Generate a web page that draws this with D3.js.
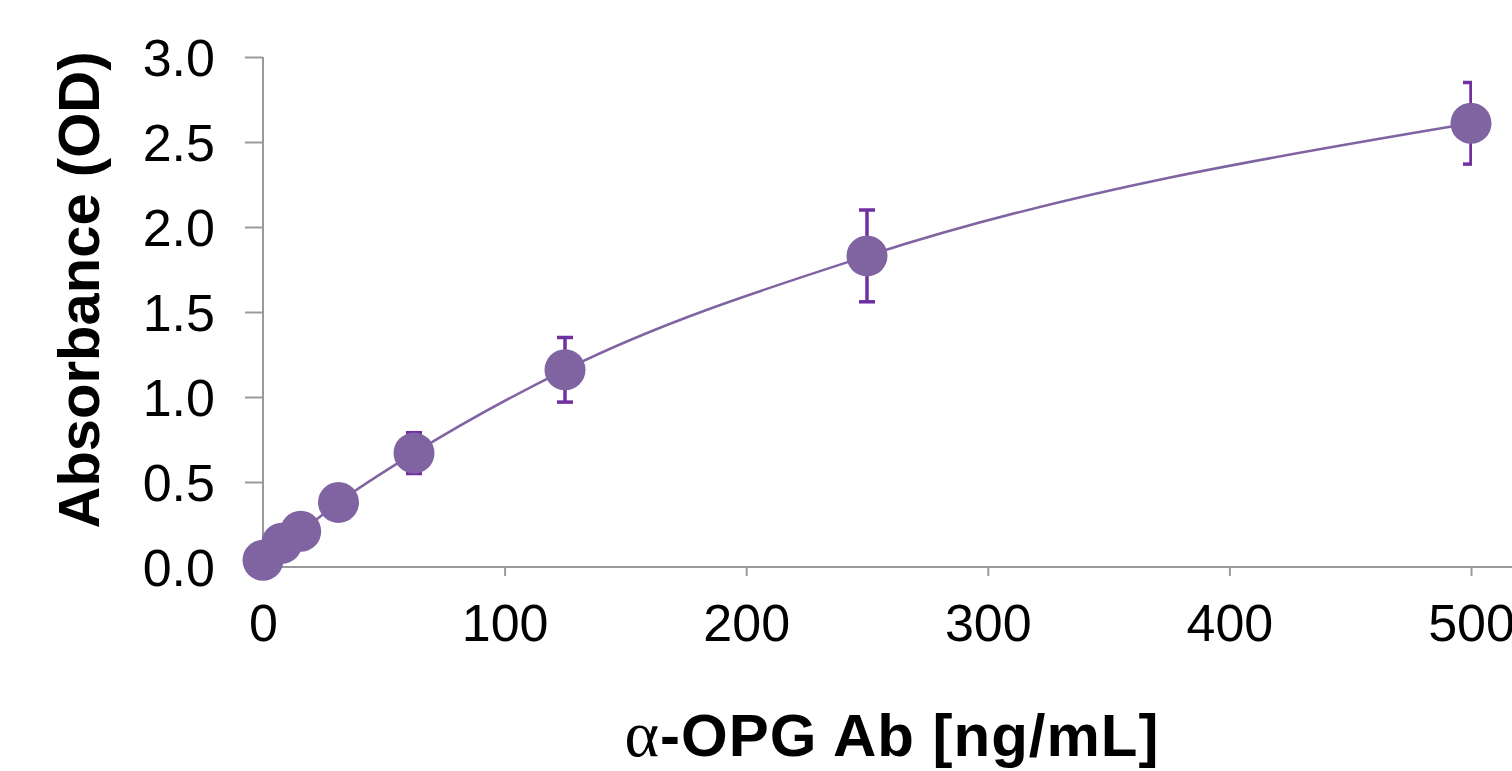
<!DOCTYPE html>
<html>
<head>
<meta charset="utf-8">
<script src="https://cdn.jsdelivr.net/npm/d3@7"></script>
<style>
  body { margin: 0; background: #fff; }
  svg { display: block; font-family: "Liberation Sans", Arial, sans-serif; }
</style>
</head>
<body>
<svg id="chart" width="1512" height="771"></svg>
<script>
// concentrations (ng/mL), mean absorbance and error (SD)
const conc = [0, 7.8, 15.6, 31.25, 62.5, 125, 250, 500];
const od = [0.04, 0.14, 0.21, 0.38, 0.67, 1.16, 1.83, 2.61];
const err = [0, 0, 0, 0.02, 0.12, 0.19, 0.27, 0.24];
const xTicks = [0, 100, 200, 300, 400, 500];
const yTicks = [0, 0.5, 1.0, 1.5, 2.0, 2.5, 3.0];

const svg = d3.select("#chart");
const purple = "#8064a2";
const barColor = "#7030a0";
const axisColor = "#9a9a9a";

const x = d3.scaleLinear().domain([0, 500]).range([263, 1471]);
const y = d3.scaleLinear().domain([0, 3]).range([567, 57]);

// y axis
const yAxis = svg.append("g")
    .attr("transform", "translate(263,0)")
    .call(d3.axisLeft(y).tickValues(yTicks).tickFormat(d3.format(".1f")).tickSize(18).tickPadding(30));
// x axis
const xAxis = svg.append("g")
    .attr("transform", "translate(0,567)")
    .call(d3.axisBottom(x).tickValues(xTicks).tickSize(9).tickPadding(28));

[yAxis, xAxis].forEach(a => {
    a.select(".domain").remove();
    a.selectAll("line").attr("stroke", axisColor).attr("stroke-width", 2);
    a.selectAll("text").attr("fill", "#000").style("font-size", "52px")
        .style("font-family", "'Liberation Sans', Arial, sans-serif");
});
xAxis.selectAll("text").attr("dy", "0.71em");
yAxis.selectAll("text").attr("dy", "0.36em");

// axis lines
svg.append("line").attr("x1", 263).attr("x2", 263).attr("y1", y(3)).attr("y2", 576)
    .attr("stroke", axisColor).attr("stroke-width", 2);
svg.append("line").attr("x1", 263).attr("x2", 1512).attr("y1", 567).attr("y2", 567)
    .attr("stroke", axisColor).attr("stroke-width", 2);

// fit curve
const pts = conc.map((c, i) => [c, od[i]]);
svg.append("path")
    .datum(pts)
    .attr("fill", "none")
    .attr("stroke", purple)
    .attr("stroke-width", 2.5)
    .attr("d", d3.line().x(d => x(d[0])).y(d => y(d[1])).curve(d3.curveMonotoneX));

// error bars, clipped at the plot edge
svg.append("clipPath").attr("id", "plotClip")
    .append("rect").attr("x", 0).attr("y", 0).attr("width", x(500) + 1).attr("height", 771);
const eb = svg.append("g").attr("clip-path", "url(#plotClip)")
    .attr("stroke", barColor).attr("stroke-width", 3.5);
pts.forEach((d, i) => {
    if (!err[i]) return;
    const cx = x(d[0]), top = y(d[1] + err[i]), bot = y(d[1] - err[i]);
    eb.append("line").attr("x1", cx).attr("x2", cx).attr("y1", top).attr("y2", bot);
    eb.append("line").attr("x1", cx - 8).attr("x2", cx + 8).attr("y1", top).attr("y2", top);
    eb.append("line").attr("x1", cx - 8).attr("x2", cx + 8).attr("y1", bot).attr("y2", bot);
});

// markers
svg.append("g").selectAll("circle")
    .data(pts)
    .join("circle")
    .attr("cx", d => x(d[0]))
    .attr("cy", d => y(d[1]))
    .attr("r", 20.5)
    .attr("fill", purple);

// axis titles
svg.append("text")
    .attr("transform", "translate(99,290) rotate(-90)")
    .attr("text-anchor", "middle")
    .style("font-size", "58px")
    .style("font-weight", "bold")
    .text("Absorbance (OD)");

const xt = svg.append("text")
    .attr("x", 892).attr("y", 756)
    .attr("text-anchor", "middle")
    .style("font-size", "60px")
    .style("font-weight", "bold")
    .style("letter-spacing", "1px");
xt.append("tspan")
    .style("font-family", "'Liberation Serif', 'Times New Roman', serif")
    .style("font-weight", "normal")
    .style("font-size", "66px")
    .text("α");
xt.append("tspan").text("-OPG Ab [ng/mL]");
</script>
</body>
</html>
